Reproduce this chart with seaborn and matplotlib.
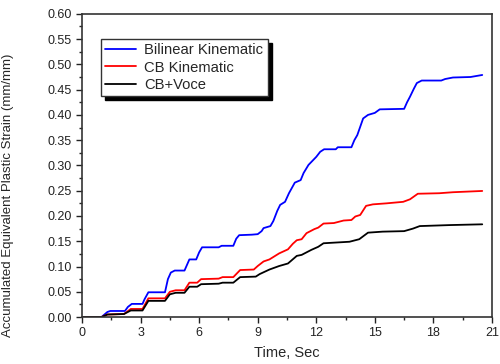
#! /usr/bin/env python3

# libraries
import matplotlib
matplotlib.use("Agg")
import matplotlib.pyplot as plt
import pandas as pd
import seaborn as sns
from matplotlib.ticker import MultipleLocator

sns.set_style("ticks")
plt.rcParams["font.family"] = ["Liberation Sans", "DejaVu Sans"]

# data (time in s, strain in mm/mm)
bilinear_t = [0, 1.0, 1.3, 1.45, 2.2, 2.35, 2.55, 3.1, 3.2, 3.4, 4.25, 4.4, 4.55, 4.75,
              5.25, 5.5, 5.85, 6.0, 6.15, 7.0, 7.15, 7.75, 7.9, 8.05, 8.7, 9.0, 9.2, 9.3,
              9.65, 9.8, 10.0, 10.15, 10.4, 10.6, 10.9, 11.2, 11.35, 11.6, 12.0, 12.2,
              12.4, 13.0, 13.1, 13.8, 13.95, 14.1, 14.4, 14.65, 15.0, 15.25, 16.5, 16.65,
              16.8, 17.0, 17.15, 17.4, 18.4, 18.6, 19.0, 19.9, 20.5]
bilinear_e = [0, 0, 0.010, 0.012, 0.012, 0.020, 0.026, 0.026, 0.035, 0.049, 0.049, 0.075,
              0.088, 0.092, 0.092, 0.114, 0.114, 0.128, 0.138, 0.138, 0.141, 0.141, 0.155,
              0.162, 0.163, 0.164, 0.170, 0.176, 0.180, 0.190, 0.210, 0.222, 0.228, 0.245,
              0.266, 0.271, 0.285, 0.301, 0.317, 0.327, 0.332, 0.332, 0.336, 0.336, 0.350,
              0.360, 0.393, 0.400, 0.404, 0.411, 0.412, 0.425, 0.436, 0.452, 0.463, 0.468,
              0.468, 0.471, 0.474, 0.475, 0.479]

cb_kin_t = [0, 1.0, 1.3, 2.15, 2.5, 3.1, 3.4, 4.25, 4.5, 4.8, 5.25, 5.5, 5.9, 6.1, 7.0,
            7.2, 7.75, 8.1, 8.8, 9.0, 9.3, 9.6, 10.1, 10.55, 10.8, 11.0, 11.25, 11.5,
            11.9, 12.1, 12.37, 12.9, 13.1, 13.4, 13.8, 14.0, 14.25, 14.55, 14.9, 15.6,
            16.45, 16.8, 17.2, 18.3, 19.0, 20.5]
cb_kin_e = [0, 0, 0.005, 0.006, 0.016, 0.016, 0.037, 0.037, 0.050, 0.053, 0.053, 0.068,
            0.068, 0.075, 0.076, 0.079, 0.079, 0.093, 0.094, 0.101, 0.110, 0.114, 0.126,
            0.134, 0.145, 0.152, 0.154, 0.166, 0.174, 0.177, 0.185, 0.186, 0.188, 0.191,
            0.192, 0.199, 0.202, 0.220, 0.223, 0.225, 0.228, 0.233, 0.244, 0.245, 0.247,
            0.2495]

cb_voce_t = [0, 1.0, 1.3, 2.15, 2.5, 3.1, 3.4, 4.25, 4.5, 4.8, 5.25, 5.5, 5.9, 6.1, 7.0,
             7.2, 7.75, 8.1, 8.9, 9.1, 9.6, 10.1, 10.55, 11.0, 11.25, 11.75, 12.1, 12.37,
             13.7, 14.2, 14.65, 15.4, 16.5, 16.95, 17.3, 18.85, 20.5]
cb_voce_e = [0, 0, 0.005, 0.006, 0.013, 0.013, 0.032, 0.032, 0.045, 0.048, 0.048, 0.060,
             0.060, 0.065, 0.066, 0.068, 0.068, 0.079, 0.080, 0.085, 0.094, 0.101, 0.106,
             0.121, 0.123, 0.133, 0.139, 0.146, 0.149, 0.154, 0.167, 0.169, 0.170, 0.175,
             0.180, 0.182, 0.1835]

series = [
    ("Bilinear Kinematic", bilinear_t, bilinear_e, "#0000ff"),
    ("CB Kinematic", cb_kin_t, cb_kin_e, "#ff0000"),
    ("CB+Voce", cb_voce_t, cb_voce_e, "#000000"),
]

fig = plt.figure(figsize=(5, 3.64), dpi=100)
ax = fig.add_axes([0.164, 0.129, 0.82, 0.833])

for name, t, e, c in series:
    df = pd.DataFrame({"t": t, "e": e})
    sns.lineplot(data=df, x="t", y="e", ax=ax, color=c, lw=1.3, sort=False,
                 label=name)

ax.set_xlim(0, 21)
ax.set_ylim(0, 0.6)
ax.xaxis.set_major_locator(MultipleLocator(3))
ax.xaxis.set_minor_locator(MultipleLocator(1.5))
ax.yaxis.set_major_locator(MultipleLocator(0.05))
ax.yaxis.set_minor_locator(MultipleLocator(0.025))
ax.yaxis.set_major_formatter(matplotlib.ticker.FormatStrFormatter("%.2f"))
ax.tick_params(which="major", direction="out", length=4, width=1, labelsize=9,
               colors="#222222")
ax.tick_params(which="minor", direction="out", length=2.5, width=1)
for s in ax.spines.values():
    s.set_linewidth(1.2)
    s.set_color("#333333")

ax.set_xlabel("Time, Sec", fontsize=10.5, labelpad=5)
ax.set_ylabel("Accumulated Equivalent Plastic Strain (mm/mm)", fontsize=9.5)
ax.yaxis.set_label_coords(-0.166, 0.40)

leg = ax.legend(loc="upper left", bbox_to_anchor=(0.202, 0.893),
                bbox_transform=fig.transFigure, borderaxespad=0, fontsize=10.6,
                fancybox=False, edgecolor="#333333", framealpha=1,
                handlelength=2.1, handletextpad=0.55, labelspacing=0.22,
                borderpad=0.3,
                shadow={"ox": 3, "oy": -3, "color": "black", "alpha": 1})
leg.get_frame().set_linewidth(1.0)

fig.savefig("out.png", dpi=100)
